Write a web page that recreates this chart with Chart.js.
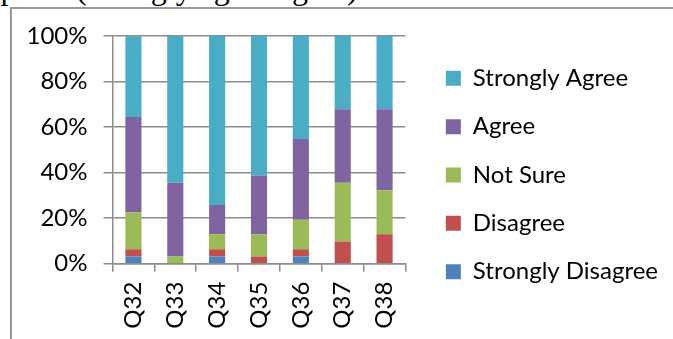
<!DOCTYPE html>
<html>
<head>
<meta charset="utf-8">
<script src="https://cdn.jsdelivr.net/npm/chart.js@4.4.1/dist/chart.umd.min.js"></script>
<style>
  html, body { margin: 0; padding: 0; background: #fff; overflow: hidden; }
  #wrap { position: relative; width: 673px; height: 339px; overflow: hidden; }
  #caption {
    position: absolute; left: -83px; top: -28px; white-space: nowrap;
    font-family: "Liberation Serif", serif; font-size: 32px; line-height: 32px; color: #000;
  }
  #frame {
    position: absolute; left: 10px; top: 7px; width: 700px; height: 400px;
    border-left: 2px solid #999; border-top: 2px solid #999;
  }
  #chart { position: absolute; left: 0; top: 0; }
</style>
</head>
<body>
<div id="wrap">
  <div id="caption">Participants (strongly agree/agree)</div>
  <div id="frame"></div>
  <canvas id="chart" width="673" height="339"></canvas>
</div>
<script>
// Questions on the x axis
const categories = ['Q32', 'Q33', 'Q34', 'Q35', 'Q36', 'Q37', 'Q38'];

// Share of responses per answer (%), stacked bottom to top
const stronglyDisagree = [3.2, 0, 3.2, 0, 3.2, 0, 0];
const disagree         = [3.2, 0, 3.2, 3.2, 3.2, 9.7, 12.9];
const notSure          = [16.1, 3.2, 6.5, 9.7, 12.9, 25.8, 19.4];
const agree            = [41.9, 32.3, 12.9, 25.8, 35.5, 32.3, 35.5];
const stronglyAgree    = [35.5, 64.5, 74.2, 61.3, 45.2, 32.2, 32.2];

const seriesNames = ['Strongly Disagree', 'Disagree', 'Not Sure', 'Agree', 'Strongly Agree'];
const yTicks = [0, 20, 40, 60, 80, 100];

const colors = ['#4F81BD', '#C0504D', '#9BBB59', '#8064A2', '#4BACC6'];
const seriesData = [stronglyDisagree, disagree, notSure, agree, stronglyAgree];

const FONT = { family: 'Lato', size: 24 };
const AXIS_GRAY = '#8c8c8c';

const datasets = seriesNames.map((name, i) => ({
  label: name,
  data: seriesData[i],
  backgroundColor: colors[i],
  borderWidth: 0,
  barPercentage: 0.385,
  categoryPercentage: 1
}));

new Chart(document.getElementById('chart'), {
  type: 'bar',
  data: { labels: categories, datasets },
  options: {
    responsive: false,
    animation: false,
    layout: { padding: { left: 0, right: 11.5, top: 16, bottom: 5 } },
    plugins: {
      tooltip: { enabled: false },
      legend: {
        position: 'right',
        align: 'center',
        reverse: true,
        maxWidth: 240,
        labels: {
          boxWidth: 15,
          boxHeight: 15,
          padding: 24.35,
          color: '#000',
          font: FONT
        }
      }
    },
    scales: {
      x: {
        stacked: true,
        ticks: { minRotation: 90, maxRotation: 90, padding: 10, color: '#000', font: FONT },
        grid: { offset: true, drawOnChartArea: false, tickLength: 8, color: AXIS_GRAY, lineWidth: 1.5 },
        border: { color: AXIS_GRAY, width: 1.5 },
        afterFit: s => { s.height = 70.3; }
      },
      y: {
        stacked: true,
        min: 0,
        max: 100,
        afterBuildTicks: s => { s.ticks = yTicks.map(v => ({ value: v })); },
        ticks: { padding: 16, color: '#000', font: FONT, callback: v => v + '%' },
        grid: { color: AXIS_GRAY, lineWidth: 1.5, tickLength: 9 },
        border: { color: AXIS_GRAY, width: 1.5 },
        afterFit: s => { s.width = 112.5; }
      },
      topGap: {
        type: 'linear',
        position: 'top',
        display: true,
        grid: { display: false },
        ticks: { display: false },
        border: { display: false },
        afterFit: s => { s.height = 20; }
      },
      gap: {
        type: 'linear',
        position: 'right',
        display: true,
        grid: { display: false },
        ticks: { display: false },
        border: { display: false },
        afterFit: s => { s.width = 16; }
      }
    }
  }
});
</script>
</body>
</html>
